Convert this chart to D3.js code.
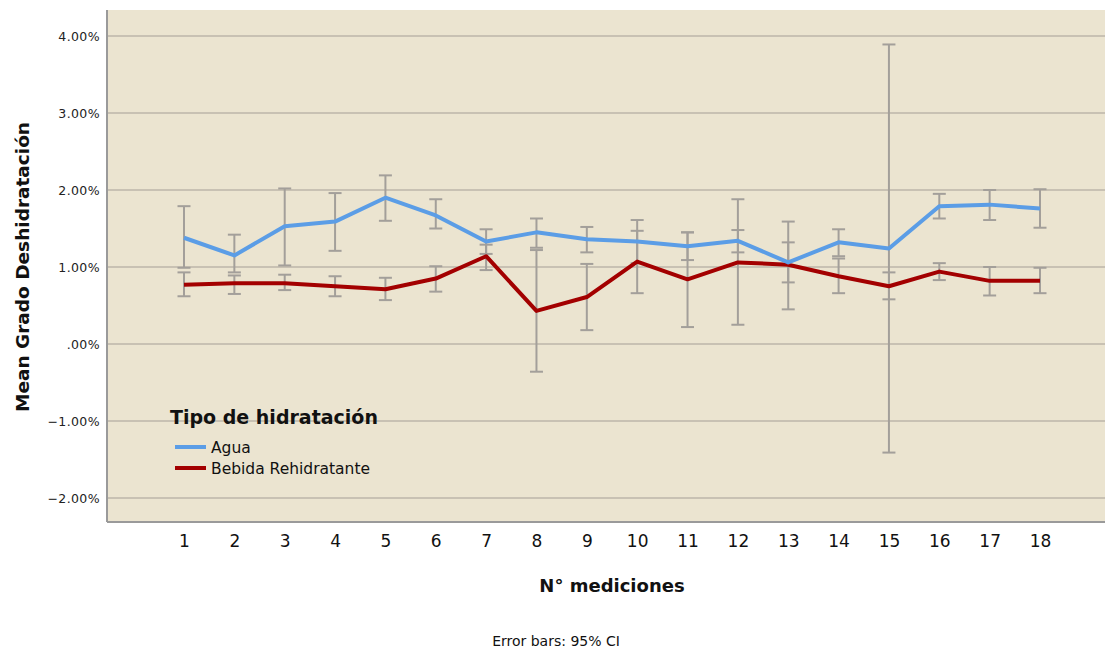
<!DOCTYPE html>
<html>
<head>
<meta charset="utf-8">
<script src="https://cdn.jsdelivr.net/npm/d3@7"></script>
<style>
  body { margin: 0; background: #fff; }
  svg { display: block; }
</style>
</head>
<body>
<div id="chart-area"></div>
<script>
// Data (values in %)
const mediciones = d3.range(1, 19);
const seriesNames = ["Agua", "Bebida Rehidratante"];
const aguaMean = [1.38, 1.15, 1.53, 1.59, 1.90, 1.67, 1.33, 1.45, 1.36, 1.33, 1.27, 1.34, 1.06, 1.32, 1.24, 1.79, 1.81, 1.76];
const aguaLow  = [0.99, 0.93, 1.02, 1.21, 1.60, 1.50, 1.17, 1.25, 1.19, 1.05, 1.09, 1.19, 0.80, 1.14, -1.41, 1.63, 1.61, 1.51];
const aguaHigh = [1.79, 1.42, 2.02, 1.96, 2.19, 1.88, 1.49, 1.63, 1.52, 1.61, 1.45, 1.48, 1.32, 1.49, 3.89, 1.95, 2.00, 2.01];
const bebidaMean = [0.77, 0.79, 0.79, 0.75, 0.71, 0.85, 1.14, 0.43, 0.61, 1.07, 0.84, 1.06, 1.03, 0.88, 0.75, 0.94, 0.82, 0.82];
const bebidaLow  = [0.62, 0.65, 0.70, 0.62, 0.57, 0.68, 0.96, -0.36, 0.18, 0.66, 0.22, 0.25, 0.45, 0.66, 0.58, 0.83, 0.63, 0.66];
const bebidaHigh = [0.93, 0.89, 0.90, 0.88, 0.86, 1.01, 1.29, 1.22, 1.04, 1.47, 1.45, 1.88, 1.59, 1.11, 0.93, 1.05, 1.00, 0.99];
const yTicks = [-2, -1, 0, 1, 2, 3, 4];

const colors = ["#5b9de6", "#a30000"];

const width = 1105;
const height = 651;
const plot = { left: 107, top: 10, right: 1105, bottom: 522 };

const series = [
  { name: seriesNames[0], mean: aguaMean, low: aguaLow, high: aguaHigh, color: colors[0] },
  { name: seriesNames[1], mean: bebidaMean, low: bebidaLow, high: bebidaHigh, color: colors[1] }
];

const svg = d3.select("#chart-area")
  .append("svg")
  .attr("width", width)
  .attr("height", height);

const x = d3.scaleLinear().domain([1, 18]).range([184, 1040]);
const y = d3.scaleLinear().domain([0, 4]).range([344, 36]);

// plot background
svg.append("rect")
  .attr("x", plot.left)
  .attr("y", plot.top)
  .attr("width", plot.right - plot.left)
  .attr("height", plot.bottom - plot.top)
  .attr("fill", "#ebe4d0");

// gridlines
svg.selectAll(".grid")
  .data(yTicks)
  .enter()
  .append("line")
  .attr("class", "grid")
  .attr("x1", plot.left)
  .attr("x2", plot.right)
  .attr("y1", d => y(d))
  .attr("y2", d => y(d))
  .attr("stroke", "#bcb6aa")
  .attr("stroke-width", 1.5);

// axis frame lines (left + bottom)
svg.append("line")
  .attr("x1", plot.left).attr("x2", plot.left)
  .attr("y1", plot.top).attr("y2", plot.bottom)
  .attr("stroke", "#9a9a9a").attr("stroke-width", 2);
svg.append("line")
  .attr("x1", plot.left).attr("x2", plot.right)
  .attr("y1", plot.bottom).attr("y2", plot.bottom)
  .attr("stroke", "#9a9a9a").attr("stroke-width", 2);

// y axis tick labels
const yAxis = d3.axisLeft(y)
  .tickValues(yTicks)
  .tickSize(0)
  .tickPadding(7)
  .tickFormat(d => d === 0 ? ".00%" : d3.format(".2f")(d) + "%");
const gy = svg.append("g")
  .attr("transform", `translate(${plot.left},0)`)
  .call(yAxis);
gy.select(".domain").remove();
gy.selectAll("text")
  .attr("font-family", "DejaVu Sans, sans-serif")
  .attr("font-size", "12.5px")
  .attr("letter-spacing", "0.4px")
  .attr("fill", "#222");

// x axis tick labels
const xAxis = d3.axisBottom(x)
  .tickValues(mediciones)
  .tickSize(0)
  .tickPadding(0)
  .tickFormat(d3.format("d"));
const gx = svg.append("g")
  .attr("transform", "translate(0,535)")
  .call(xAxis);
gx.select(".domain").remove();
gx.selectAll("text")
  .attr("font-family", "DejaVu Sans, sans-serif")
  .attr("font-size", "17px")
  .attr("fill", "#111");

// error bars
const capHalf = 6.5;
series.forEach(s => {
  const g = svg.append("g").attr("class", "errbars");
  g.selectAll(".ebar")
    .data(mediciones)
    .enter()
    .append("line")
    .attr("x1", d => x(d)).attr("x2", d => x(d))
    .attr("y1", (d, i) => y(s.low[i]))
    .attr("y2", (d, i) => y(s.high[i]))
    .attr("stroke", "#a39f9a").attr("stroke-width", 2);
  ["low", "high"].forEach(k => {
    g.selectAll(".cap-" + k)
      .data(mediciones)
      .enter()
      .append("line")
      .attr("x1", d => x(d) - capHalf).attr("x2", d => x(d) + capHalf)
      .attr("y1", (d, i) => y(s[k][i]))
      .attr("y2", (d, i) => y(s[k][i]))
      .attr("stroke", "#a39f9a").attr("stroke-width", 2);
  });
});

// lines
const line = d3.line()
  .x(d => x(d[0]))
  .y(d => y(d[1]));
series.slice().reverse().forEach(s => {
  svg.append("path")
    .datum(mediciones.map((m, i) => [m, s.mean[i]]))
    .attr("d", line)
    .attr("fill", "none")
    .attr("stroke", s.color)
    .attr("stroke-width", 4)
    .attr("stroke-linejoin", "round");
});

// legend
const legend = svg.append("g");
legend.append("text")
  .attr("x", 170).attr("y", 424)
  .attr("font-family", "DejaVu Sans, sans-serif")
  .attr("font-weight", "bold")
  .attr("font-size", "19px")
  .attr("fill", "#111")
  .text("Tipo de hidratación");
legend.selectAll(".leg-sw")
  .data(series)
  .enter()
  .append("line")
  .attr("x1", 175).attr("x2", 206)
  .attr("y1", (d, i) => 447 + i * 21)
  .attr("y2", (d, i) => 447 + i * 21)
  .attr("stroke", d => d.color)
  .attr("stroke-width", 4);
legend.selectAll(".leg-tx")
  .data(series)
  .enter()
  .append("text")
  .attr("x", 211)
  .attr("y", (d, i) => 453 + i * 21)
  .attr("font-family", "DejaVu Sans, sans-serif")
  .attr("font-size", "15.5px")
  .attr("fill", "#111")
  .text(d => d.name);

// axis titles
svg.append("text")
  .attr("transform", "translate(29,267) rotate(-90)")
  .attr("text-anchor", "middle")
  .attr("font-family", "DejaVu Sans, sans-serif")
  .attr("font-weight", "bold")
  .attr("font-size", "18.5px")
  .attr("fill", "#111")
  .text("Mean Grado Deshidratación");

svg.append("text")
  .attr("x", 612).attr("y", 592)
  .attr("text-anchor", "middle")
  .attr("font-family", "DejaVu Sans, sans-serif")
  .attr("font-weight", "bold")
  .attr("font-size", "18px")
  .attr("fill", "#111")
  .text("N° mediciones");

svg.append("text")
  .attr("x", 556).attr("y", 646)
  .attr("text-anchor", "middle")
  .attr("font-family", "DejaVu Sans, sans-serif")
  .attr("font-size", "14px")
  .attr("fill", "#111")
  .text("Error bars: 95% CI");
</script>
</body>
</html>
